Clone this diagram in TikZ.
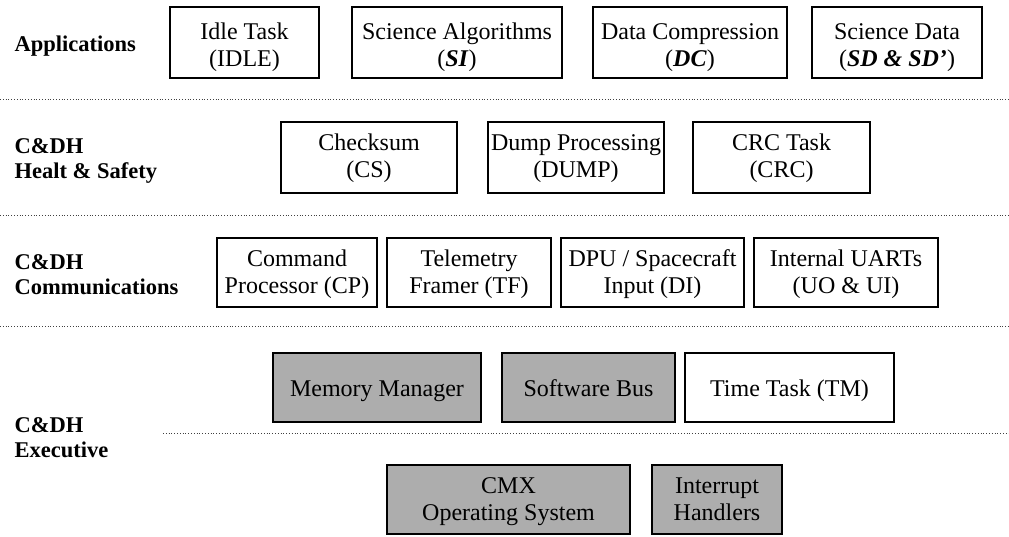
\documentclass[tikz,border=0pt]{standalone}
\usepackage{fontspec}
\setmainfont{Liberation Serif}
\begin{document}
\begin{tikzpicture}[x=1pt,y=-1pt,
  box/.style={draw=black,line width=1.8pt,align=center,inner sep=0pt,
    font=\fontsize{24}{27}\selectfont,
    execute at begin node={\rule{0pt}{#1}}, execute at end node=\strut},
  box/.default=27pt,
  shaded/.style={box=#1,fill=black!32},
  shaded/.default=27pt,
  layer/.style={anchor=west,align=left,font=\fontsize{22.5}{25}\selectfont\bfseries},
  sep/.style={dotted,line width=0.8pt,black!75}]
\useasboundingbox (0,0) rectangle (1009,536);
% labels
\node[layer] (lapp) at (11,46) {Applications};
\node[layer] (lhs) at (11,161) {C\&DH\\Healt \& Safety};
\node[layer] (lcom) at (11,275) {C\&DH\\Communications};
\node[layer] (lexe) at (11,438) {C\&DH\\Executive};
% separators
\coordinate (s1a) at (0,99);   \coordinate (s1b) at (1009,99);
\coordinate (s2a) at (0,215);  \coordinate (s2b) at (1009,215);
\coordinate (s3a) at (0,326);  \coordinate (s3b) at (1009,326);
\coordinate (s4a) at (163,433); \coordinate (s4b) at (1009,433);
\draw[sep] (s1a) -- (s1b);
\draw[sep] (s2a) -- (s2b);
\draw[sep] (s3a) -- (s3b);
\draw[sep] (s4a) -- (s4b);
% row 1
\node[box=56pt,minimum width=149,minimum height=71] (idle) at (244.5,42.5) {Idle Task\\(IDLE)};
\node[box=56pt,minimum width=210,minimum height=71] (si) at (457,42.5) {Science Algorithms\\(\textbf{\textit{SI}})};
\node[box=56pt,minimum width=194,minimum height=71] (dc) at (690,42.5) {Data Compression\\(\textbf{\textit{DC}})};
\node[box=56pt,minimum width=170,minimum height=71] (sd) at (897,42.5) {Science Data\\(\textbf{\textit{SD \& SD’}})};
% row 2
\node[box=49pt,minimum width=176,minimum height=71] (cs) at (369,157.5) {Checksum\\(CS)};
\node[box=49pt,minimum width=176,minimum height=71] (dump) at (576,157.5) {Dump Processing\\(DUMP)};
\node[box=49pt,minimum width=177,minimum height=71] (crc) at (781.5,157.5) {CRC Task\\(CRC)};
% row 3
\node[box=50pt,minimum width=160,minimum height=69] (cp) at (297,272.5) {Command\\Processor (CP)};
\node[box=50pt,minimum width=164,minimum height=69] (tf) at (469,272.5) {Telemetry\\Framer (TF)};
\node[box=50pt,minimum width=183,minimum height=69] (di) at (652.5,272.5) {DPU / Spacecraft\\Input (DI)};
\node[box=50pt,minimum width=184,minimum height=69] (ua) at (846,272.5) {Internal UARTs\\(UO \& UI)};
% row 4
\node[shaded,minimum width=208,minimum height=69] (mm) at (377,387.5) {Memory Manager};
\node[shaded,minimum width=173,minimum height=69] (sb) at (588.5,387.5) {Software Bus};
\node[box,minimum width=209,minimum height=69] (tm) at (789.5,387.5) {Time Task (TM)};
% row 5
\node[shaded=51pt,minimum width=243,minimum height=69] (cmx) at (508.5,499.5) {CMX\\Operating System};
\node[shaded=51pt,minimum width=130,minimum height=69] (ih) at (717,499.5) {Interrupt\\Handlers};
\end{tikzpicture}
\end{document}
